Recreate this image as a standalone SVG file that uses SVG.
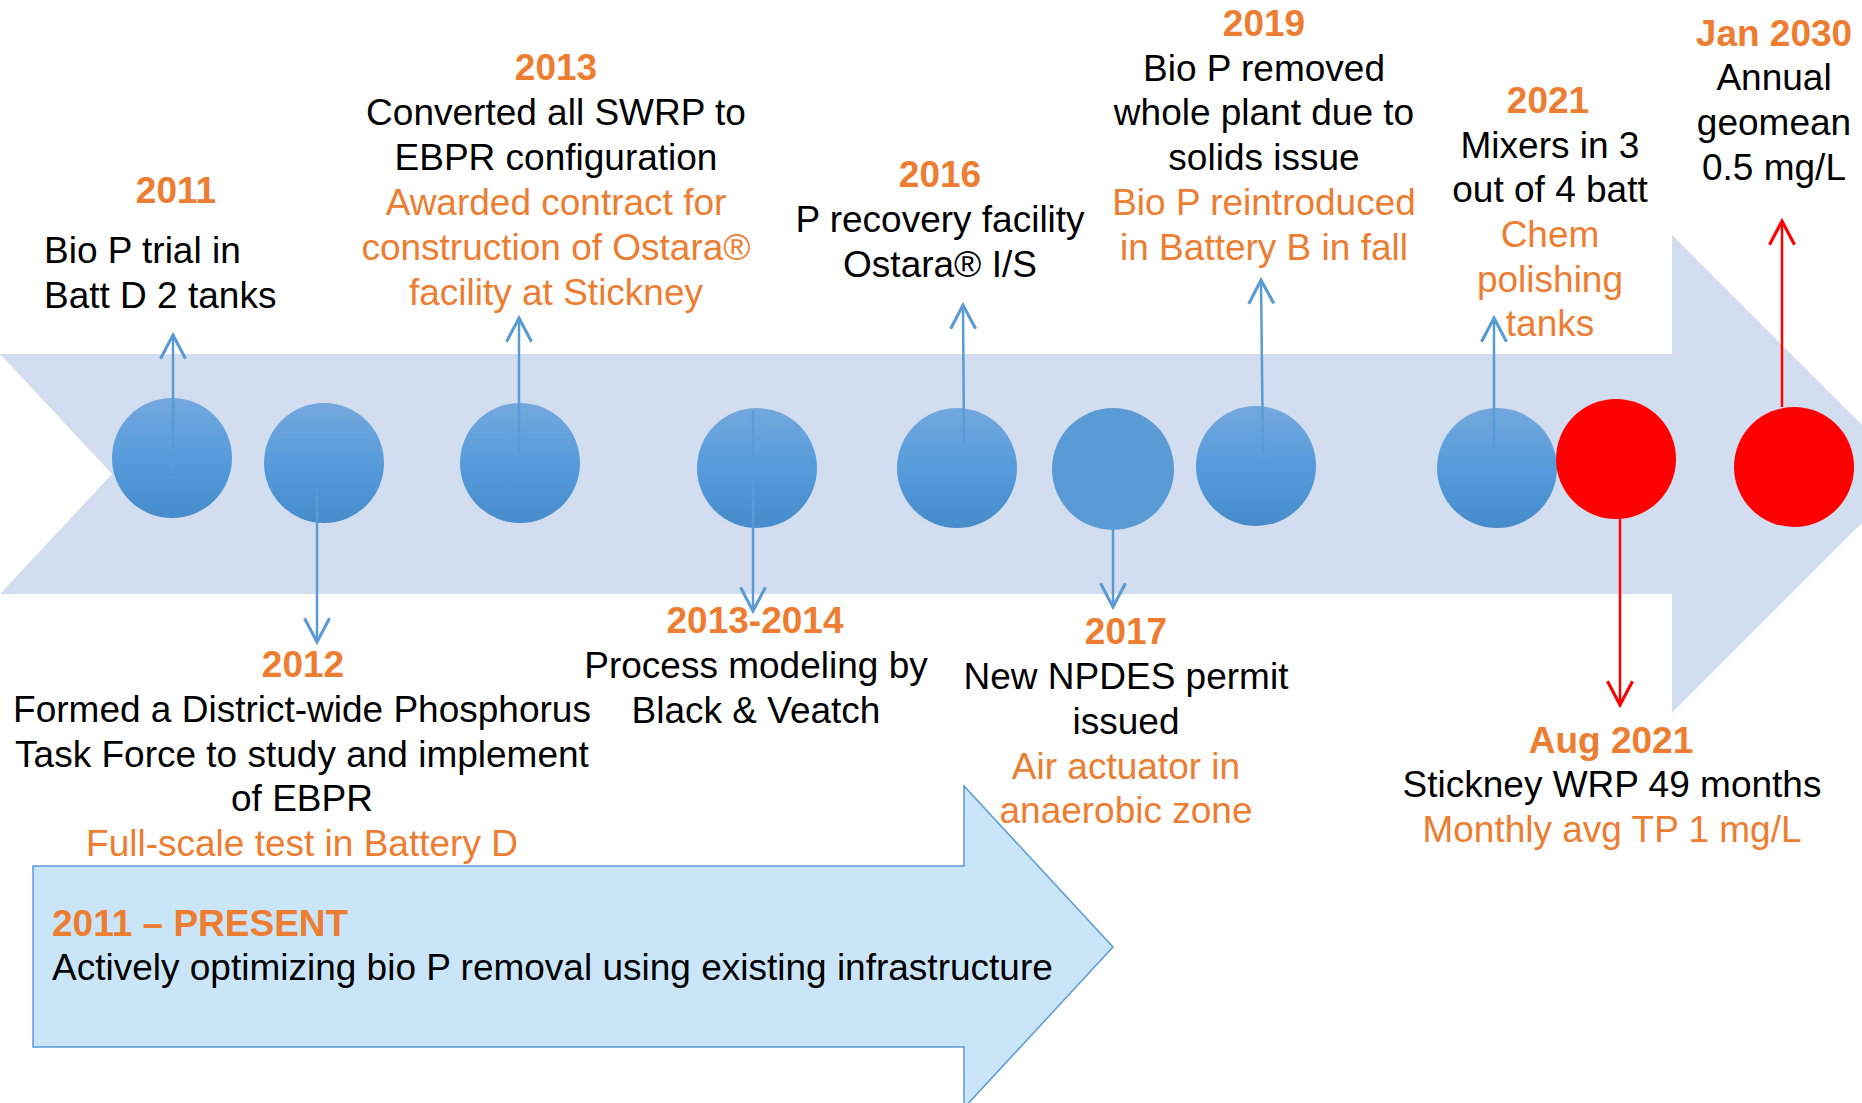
<svg xmlns="http://www.w3.org/2000/svg" width="1862" height="1103" viewBox="0 0 1862 1103">
<defs>
<linearGradient id="gBlue" x1="0" y1="0" x2="0" y2="1">
<stop offset="0" stop-color="#74A8DE"/>
<stop offset="0.5" stop-color="#569BDB"/>
<stop offset="1" stop-color="#468BCA"/>
</linearGradient>
<marker id="aBlue" markerUnits="userSpaceOnUse" markerWidth="30" markerHeight="30" viewBox="-22 -12 24 24" refX="0" refY="0" orient="auto" overflow="visible">
<path d="M-19,-10 L0,0 L-19,10" fill="none" stroke="#5B9BD5" stroke-width="2.5"/>
</marker>
<marker id="aRed" markerUnits="userSpaceOnUse" markerWidth="30" markerHeight="30" viewBox="-22 -12 24 24" refX="0" refY="0" orient="auto" overflow="visible">
<path d="M-19,-10 L0,0 L-19,10" fill="none" stroke="#FF0000" stroke-width="2.5"/>
</marker>
</defs>
<style>
text{font-family:"Liberation Sans",Arial,sans-serif;font-size:37px;fill:#000}
.c{text-anchor:middle}
.o{fill:#ED7D31}
.b{font-weight:bold;fill:#ED7D31}
.bl{fill:url(#gBlue)}
.rd{fill:#FF0000}
.ln{stroke:#5B9BD5;stroke-width:2.5;fill:none;marker-end:url(#aBlue)}
.lr{stroke:#FF0000;stroke-width:2.5;fill:none;marker-end:url(#aRed)}
</style>
<rect width="1862" height="1103" fill="#FFFFFF"/>
<g id="timeline-band">
<polygon points="0,354 1672,354 1672,235 1911,474 1672,713 1672,594 0,594 112,474" fill="#D2DEEF"/>
</g>
<g id="present-arrow">
<polygon points="33,866 964,866 964,786 1113,947 964,1108 964,1047 33,1047" fill="#CBE5F8" stroke="#5B9BD5" stroke-width="1.5"/>
<text x="52" y="936" class="b">2011 – PRESENT</text>
<text x="52" y="980">Actively optimizing bio P removal using existing infrastructure</text>
</g>
<g id="node-2011">
<circle cx="172" cy="458" r="60" class="bl"/>
<text x="176" y="203" class="b c">2011</text>
<text x="44" y="263">Bio P trial in</text>
<text x="44" y="308">Batt D 2 tanks</text>
</g>
<g id="node-2012">
<circle cx="324" cy="463" r="60" class="bl"/>
<text x="303" y="677" class="b c">2012</text>
<text x="302" y="722" class="c">Formed a District-wide Phosphorus</text>
<text x="302" y="767" class="c">Task Force to study and implement</text>
<text x="302" y="811" class="c">of EBPR</text>
<text x="302" y="856" class="c o">Full-scale test in Battery D</text>
</g>
<g id="node-2013">
<circle cx="520" cy="463" r="60" class="bl"/>
<text x="556" y="80" class="b c">2013</text>
<text x="556" y="125" class="c">Converted all SWRP to</text>
<text x="556" y="170" class="c">EBPR configuration</text>
<text x="556" y="215" class="c o">Awarded contract for</text>
<text x="556" y="260" class="c o">construction of Ostara®</text>
<text x="556" y="305" class="c o">facility at Stickney</text>
</g>
<g id="node-2013-2014">
<circle cx="757" cy="468" r="60" class="bl"/>
<text x="755" y="633" class="b c">2013-2014</text>
<text x="756" y="678" class="c">Process modeling by</text>
<text x="756" y="723" class="c">Black &amp; Veatch</text>
</g>
<g id="node-2016">
<circle cx="957" cy="468" r="60" class="bl"/>
<text x="940" y="187" class="b c">2016</text>
<text x="940" y="232" class="c">P recovery facility</text>
<text x="940" y="277" class="c">Ostara® I/S</text>
</g>
<g id="node-2017">
<circle cx="1113" cy="469" r="61" fill="#5B9BD5"/>
<text x="1126" y="644" class="b c">2017</text>
<text x="1126" y="689" class="c">New NPDES permit</text>
<text x="1126" y="734" class="c">issued</text>
<text x="1126" y="779" class="c o">Air actuator in</text>
<text x="1126" y="823" class="c o">anaerobic zone</text>
</g>
<g id="node-2019">
<circle cx="1256" cy="466" r="60" class="bl"/>
<text x="1264" y="36" class="b c">2019</text>
<text x="1264" y="81" class="c">Bio P removed</text>
<text x="1264" y="125" class="c">whole plant due to</text>
<text x="1264" y="170" class="c">solids issue</text>
<text x="1264" y="215" class="c o">Bio P reintroduced</text>
<text x="1264" y="260" class="c o">in Battery B in fall</text>
</g>
<g id="node-2021">
<circle cx="1497" cy="468" r="60" class="bl"/>
<text x="1548" y="113" class="b c">2021</text>
<text x="1550" y="158" class="c">Mixers in 3</text>
<text x="1550" y="202" class="c">out of 4 batt</text>
<text x="1550" y="247" class="c o">Chem</text>
<text x="1550" y="292" class="c o">polishing</text>
<text x="1550" y="336" class="c o">tanks</text>
</g>
<g id="node-aug-2021">
<circle cx="1616" cy="459" r="60" class="rd"/>
<text x="1611" y="753" class="b c">Aug 2021</text>
<text x="1612" y="797" class="c">Stickney WRP 49 months</text>
<text x="1612" y="842" class="c o">Monthly avg TP 1 mg/L</text>
</g>
<g id="node-jan-2030">
<circle cx="1794" cy="467" r="60" class="rd"/>
<text x="1774" y="46" class="b c">Jan 2030</text>
<text x="1774" y="90" class="c">Annual</text>
<text x="1774" y="135" class="c">geomean</text>
<text x="1774" y="180" class="c">0.5 mg/L</text>
</g>
<g id="connectors">
<line x1="173" y1="473" x2="173" y2="335" class="ln"/>
<line x1="317" y1="488" x2="317" y2="642" class="ln"/>
<line x1="519" y1="457" x2="519" y2="318" class="ln"/>
<line x1="753" y1="410" x2="753" y2="611" class="ln"/>
<line x1="964" y1="443" x2="963" y2="305" class="ln"/>
<line x1="1113" y1="530" x2="1113" y2="607" class="ln"/>
<line x1="1263" y1="457" x2="1261" y2="280" class="ln"/>
<line x1="1494" y1="448" x2="1494" y2="318" class="ln"/>
<line x1="1620" y1="519" x2="1620" y2="705" class="lr"/>
<line x1="1782" y1="407" x2="1782" y2="221" class="lr"/>
</g>
</svg>
